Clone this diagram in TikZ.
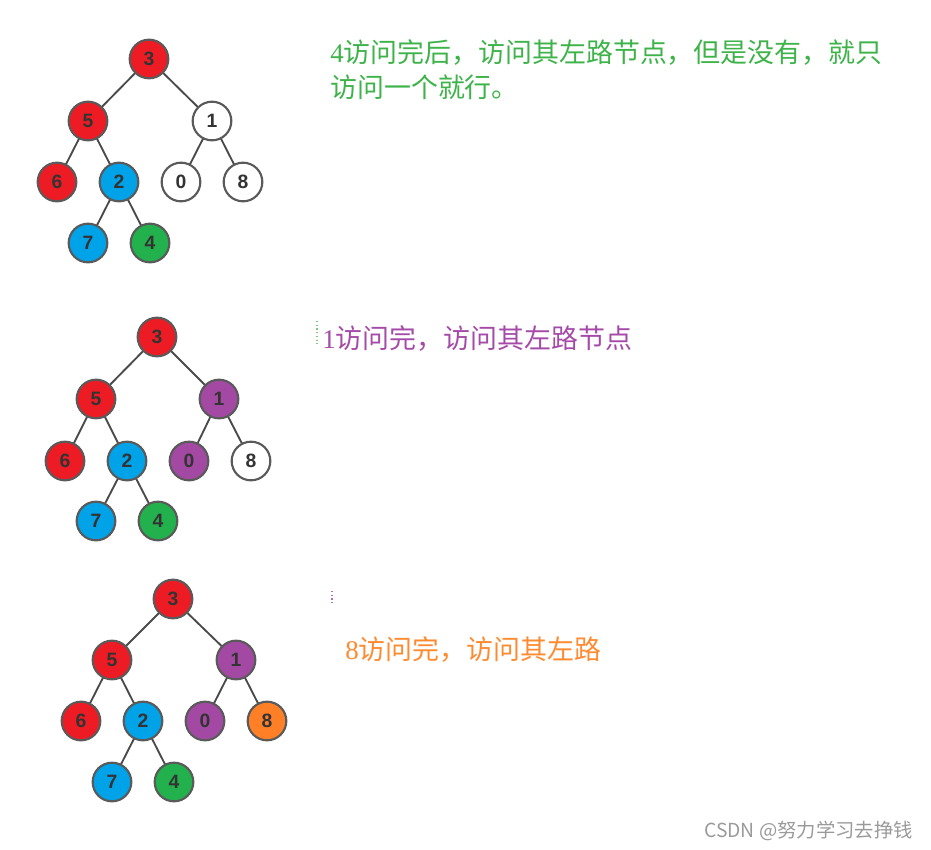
\documentclass[tikz,border=0pt]{standalone}
\usepackage{fontspec}
\setmainfont{Liberation Serif}
\newfontfamily\cjk{Noto Sans CJK SC}
\newfontfamily\numfont{Liberation Sans}
\usetikzlibrary{backgrounds}
\definecolor{nred}{HTML}{ED1C24}
\definecolor{nblue}{HTML}{00A2E8}
\definecolor{ngreen}{HTML}{22B14C}
\definecolor{npurple}{HTML}{A349A4}
\definecolor{norange}{HTML}{FF7F27}
\definecolor{ring}{HTML}{5A5A5A}
\definecolor{edgec}{HTML}{4A4A4A}
\definecolor{tgreen}{HTML}{3DB34A}
\definecolor{tpurple}{HTML}{A54AA8}
\definecolor{torange}{HTML}{FF8A30}
\definecolor{wm}{HTML}{9A9A9A}
\begin{document}
\begin{tikzpicture}[x=0.75pt,y=-0.75pt,
  tn/.style={circle,draw=ring,line width=1.6pt,minimum size=29pt,inner sep=0pt,
    font=\numfont\fontsize{14.5}{14.5}\selectfont\bfseries,text=black!80},
  tedge/.style={draw=edgec,line width=1.4pt},
  note/.style={anchor=base west,inner sep=0pt,font=\fontsize{20.2}{24}\selectfont},
  artifact/.style={dotted,line width=0.8pt}]
\useasboundingbox (0,0) rectangle (931,849);
% ---- tree 1
\node[tn,fill=nred]   (a3) at (149,59) {3};
\node[tn,fill=nred]   (a5) at (88,121) {5};
\node[tn,fill=white]  (a1) at (212,121) {1};
\node[tn,fill=nred]   (a6) at (57,182) {6};
\node[tn,fill=nblue]  (a2) at (119,182) {2};
\node[tn,fill=white]  (a0) at (181,182) {0};
\node[tn,fill=white]  (a8) at (243,182) {8};
\node[tn,fill=nblue]  (a7) at (88,243) {7};
\node[tn,fill=ngreen] (a4) at (150,243) {4};
% ---- tree 2
\node[tn,fill=nred]    (b3) at (157,337) {3};
\node[tn,fill=nred]    (b5) at (96,399) {5};
\node[tn,fill=npurple] (b1) at (219,399) {1};
\node[tn,fill=nred]    (b6) at (65,461) {6};
\node[tn,fill=nblue]   (b2) at (127,461) {2};
\node[tn,fill=npurple] (b0) at (189,461) {0};
\node[tn,fill=white]   (b8) at (251,461) {8};
\node[tn,fill=nblue]   (b7) at (96,521) {7};
\node[tn,fill=ngreen]  (b4) at (158,521) {4};
% ---- tree 3
\node[tn,fill=nred]    (c3) at (173,599) {3};
\node[tn,fill=nred]    (c5) at (112,660) {5};
\node[tn,fill=npurple] (c1) at (236,660) {1};
\node[tn,fill=nred]    (c6) at (81,721) {6};
\node[tn,fill=nblue]   (c2) at (143,721) {2};
\node[tn,fill=npurple] (c0) at (205,721) {0};
\node[tn,fill=norange] (c8) at (267,721) {8};
\node[tn,fill=nblue]   (c7) at (112,782) {7};
\node[tn,fill=ngreen]  (c4) at (174,782) {4};
\begin{scope}[on background layer]
\foreach \p in {a,b,c}{
  \draw[tedge] (\p3.center) -- (\p5.center);
  \draw[tedge] (\p3.center) -- (\p1.center);
  \draw[tedge] (\p5.center) -- (\p6.center);
  \draw[tedge] (\p5.center) -- (\p2.center);
  \draw[tedge] (\p1.center) -- (\p0.center);
  \draw[tedge] (\p1.center) -- (\p8.center);
  \draw[tedge] (\p2.center) -- (\p7.center);
  \draw[tedge] (\p2.center) -- (\p4.center);
}
\end{scope}
% ---- notes
\node[note,text=tgreen] (n1) at (330,63) {4{\cjk 访问完后，访问其左路节点，但是没有，就只}};
\node[note,text=tgreen] (n1b) at (330,98) {\cjk 访问一个就行。};
\node[note,text=tpurple] (n2) at (322,348) {1{\cjk 访问完，访问其左路节点}};
\node[note,text=torange] (n3) at (345,659) {8{\cjk 访问完，访问其左路}};
% small dotted artifacts
\coordinate (d1a) at (317,321);
\coordinate (d1b) at (317,346);
\draw[artifact,tgreen!70] (d1a) -- (d1b);
\coordinate (d2a) at (332,591);
\coordinate (d2b) at (332,605);
\draw[artifact,tpurple!80] (d2a) -- (d2b);
% watermark
\node[anchor=base west,inner sep=0pt,text=wm,font=\cjk\fontsize{14.5}{16}\selectfont] (wm) at (704,837) {CSDN @努力学习去挣钱};
\end{tikzpicture}
\end{document}
